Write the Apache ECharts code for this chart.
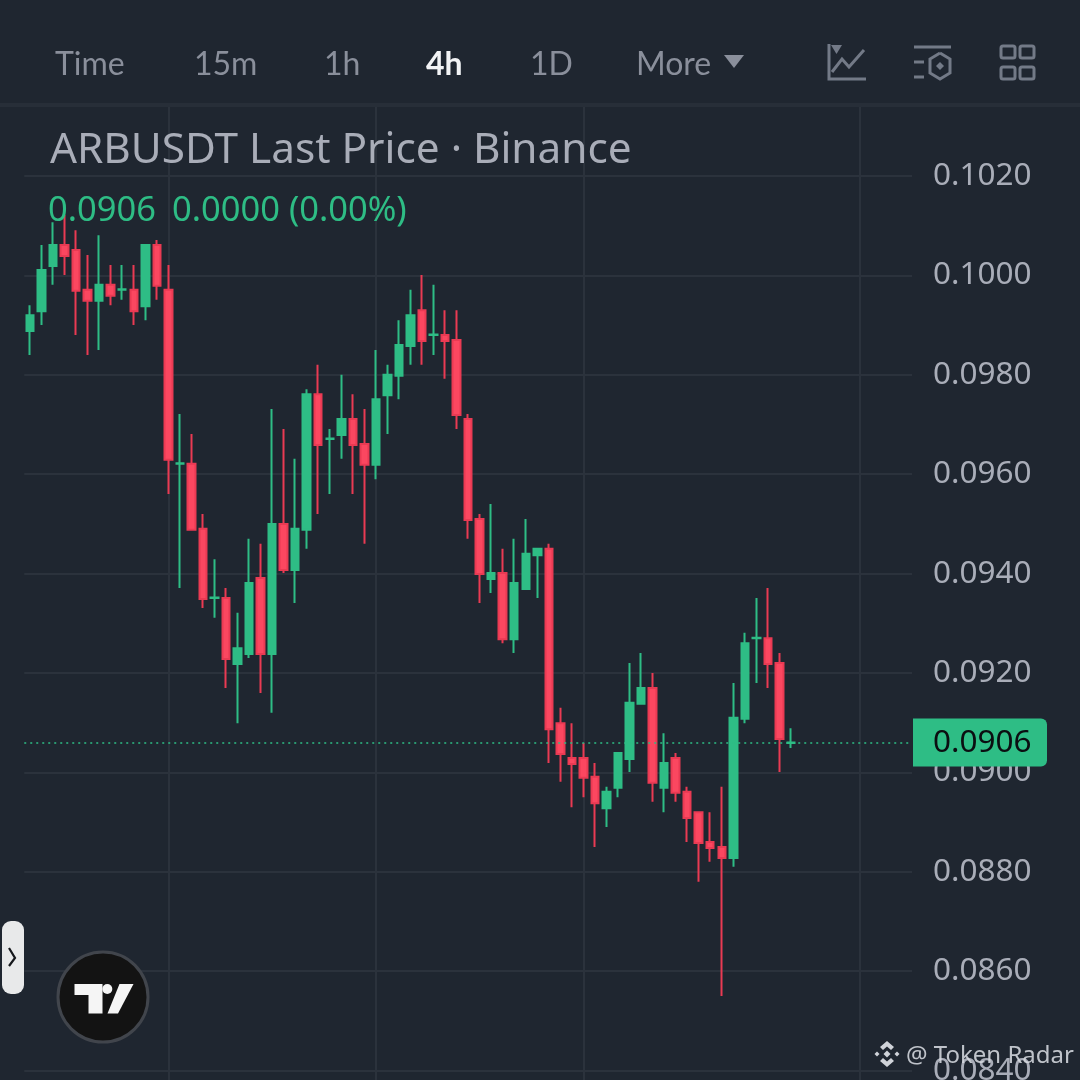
<!DOCTYPE html>
<html><head><meta charset="utf-8">
<style>html,body{margin:0;padding:0;background:#1f2630}#c{width:1080px;height:1080px}</style>
<script src="https://cdn.jsdelivr.net/npm/echarts@6/dist/echarts.min.js"></script>
</head><body><div id="c"></div>
<script>
// [open, close, low, high]
const candles = [
[.09888,.09920,.09840,.09940],[.09928,.10011,.09900,.10061],[.10019,.10061,.09981,.10107],[.10061,.10039,.10001,.10122],
[.10051,.09969,.09880,.10091],[.09971,.09949,.09840,.10041],[.09949,.09981,.09850,.10081],[.09981,.09959,.09940,.10021],
[.09971,.09972,.09951,.10021],[.09971,.09928,.09900,.10021],[.09938,.10061,.09910,.10061],[.10061,.09979,.09951,.10071],
[.09971,.09629,.09560,.10021],[.09621,.09622,.09371,.09721],[.09621,.09488,.09488,.09681],[.09490,.09349,.09331,.09520],
[.09351,.09352,.09311,.09429],[.09351,.09228,.09170,.09371],[.09218,.09250,.09099,.09321],[.09238,.09381,.09230,.09470],
[.09391,.09238,.09160,.09460],[.09238,.09500,.09120,.09731],[.09500,.09407,.09401,.09691],[.09407,.09490,.09341,.09631],
[.09488,.09761,.09450,.09771],[.09761,.09659,.09520,.09820],[.09671,.09672,.09560,.09691],[.09679,.09711,.09631,.09800],
[.09711,.09659,.09560,.09761],[.09661,.09619,.09460,.09731],[.09619,.09751,.09590,.09850],[.09759,.09800,.09681,.09820],
[.09798,.09860,.09751,.09910],[.09858,.09920,.09820,.09971],[.09930,.09868,.09820,.10001],[.09880,.09881,.09840,.09981],
[.09880,.09868,.09792,.09930],[.09870,.09719,.09691,.09930],[.09711,.09508,.09470,.09721],[.09510,.09399,.09341,.09520],
[.09389,.09401,.09361,.09540],[.09401,.09268,.09260,.09450],[.09268,.09381,.09240,.09470],[.09369,.09440,.09369,.09510],
[.09437,.09450,.09351,.09450],[.09450,.09087,.09019,.09460],[.09099,.09037,.08981,.09130],[.09029,.09017,.08930,.09099],
[.09029,.08989,.08950,.09059],[.08991,.08938,.08850,.09019],[.08928,.08961,.08890,.08971],[.08969,.09039,.08950,.09039],
[.09027,.09140,.09001,.09220],[.09138,.09170,.09138,.09240],[.09170,.08979,.08941,.09200],[.08969,.09019,.08920,.09079],
[.09029,.08959,.08941,.09039],[.08961,.08908,.08860,.08971],[.08920,.08858,.08780,.08920],[.08860,.08848,.08820,.08920],
[.08850,.08828,.08550,.08971],[.08828,.09110,.08810,.09180],[.09108,.09260,.09099,.09281],[.09270,.09271,.09180,.09351],
[.09270,.09218,.09170,.09371],[.09220,.09067,.09001,.09240],[.09059,.09060,.09049,.09089]
];
const emptySlots = 10;
const categories = Array.from({length: candles.length + emptySlots}, (_, i) => String(i));
const verticalLineSlots = [12, 30, 48, 72];
const lastPrice = 0.0906;
const intervals = [['Time',55],['15m',194],['1h',324],['4h',426],['1D',530],['More',636]];

const BG = '#1f2630', GRID = '#2b323c', GREEN = '#2ebd85', RED = '#fb4760', REDB = '#ea3a53', TXT = '#a9adb8', ICON = '#737a87';
const chart = echarts.init(document.getElementById('c'), null, {renderer:'canvas', width:1080, height:1080});
const Z = 100;
const rect = (x,y,w,h,fill,r,z) => ({type:'rect', z:z||Z, shape:{x,y,width:w,height:h,r:r||0}, style:{fill}});
const text = (x,y,t,font,fill,z) => ({type:'text', z:z||Z+1, x, y, style:{text:t, font, fill, textVerticalAlign:'middle', textBaseline:'middle'}});
const line = (pts,stroke,w,z) => ({type:'polyline', z:z||Z+1, shape:{points:pts}, style:{stroke, lineWidth:w, fill:null}});
const poly = (pts,fill,z) => ({type:'polygon', z:z||Z+1, shape:{points:pts}, style:{fill}});

const headFont = '32px Lato, sans-serif';
const graphics = [
  rect(0,0,1080,103,BG),
  rect(0,103,1080,4,'#272e38'),
  ...intervals.map(([t,x]) => text(x,65,t, t==='4h' ? 'bold 32px Lato, sans-serif' : headFont, t==='4h' ? '#f2f3f5' : '#8a8f9b')),
  poly([[724,55],[744,55],[734,68]],'#8a8f9b'),
  // chart icon
  line([[829,44],[829,79],[866,79]],ICON,3),
  poly([[831,45],[842,45],[836.5,54]],ICON),
  line([[832,72],[842,59],[849,67],[864,50]],ICON,3),
  // settings icon
  line([[914,47],[951,47]],ICON,3),
  line([[914,62],[924,62]],ICON,3),
  line([[914,77],[924,77]],ICON,3),
  line([[940,53],[950,59],[950,73],[940,79],[930,73],[930,59],[940,53]],ICON,3),
  poly([[940,62],[944,66],[940,70],[936,66]],ICON),
  // grid icon
  ...[[1001,46],[1020,46],[1001,67],[1020,67]].map(([x,y]) => ({type:'rect', z:Z+1, shape:{x,y,width:14,height:12,r:2}, style:{fill:null, stroke:ICON, lineWidth:3}})),
  // legend texts
  text(50,151,'ARBUSDT Last Price · Binance','42.3px "Noto Sans", sans-serif',TXT),
  text(48,211,'0.0906','34.5px "Noto Sans", sans-serif',GREEN),
  text(172,211,'0.0000 (0.00%)','34.5px "Noto Sans", sans-serif',GREEN),
  // side pill
  rect(2,921,22,73,'#e8e9ea',9),
  line([[9,948],[15,958],[9,966]],'#15181c',2.2),
  // logo
  {type:'circle', z:Z, shape:{cx:103,cy:997,r:45}, style:{fill:'#131313', stroke:'#41454c', lineWidth:3}},
  poly([[74.5,984],[102.5,984],[102.5,1013.5],[88.5,1013.5],[88.5,995],[74.5,995]],'#f5f5f5'),
  {type:'circle', z:Z+1, shape:{cx:107.3,cy:989,r:5}, style:{fill:'#f5f5f5'}},
  poly([[119.5,984],[133.5,984],[118,1013.5],[107.5,1013.5]],'#f5f5f5'),
  // watermark
  poly([[887,1041],[894,1047],[891,1050],[887,1046.5],[883,1050],[880,1047]],'#d0d3d9'),
  poly([[887,1067],[894,1061],[891,1058],[887,1061.5],[883,1058],[880,1061]],'#d0d3d9'),
  poly([[887,1050.5],[890.5,1054],[887,1057.5],[883.5,1054]],'#d0d3d9'),
  poly([[877,1051.5],[879.5,1054],[877,1056.5],[874.5,1054]],'#d0d3d9'),
  poly([[897,1051.5],[899.5,1054],[897,1056.5],[894.5,1054]],'#d0d3d9'),
  text(906,1056,'@ Token Radar','24px "Noto Sans", sans-serif','rgba(214,217,223,0.88)')
];

chart.setOption({
  animation:false,
  backgroundColor:BG,
  graphic:{elements:graphics},
  grid:{left:24.24, top:76.6, width:887.76, height:1093.4, containLabel:false, outerBoundsMode:'none'},
  xAxis:{type:'category', data:categories, boundaryGap:true,
    axisLine:{show:false}, axisTick:{show:false}, axisLabel:{show:false},
    splitLine:{show:true, alignWithLabel:true, interval:(i)=>verticalLineSlots.includes(i), lineStyle:{color:GRID,width:2}}},
  yAxis:{type:'value', position:'right', min:0.082, max:0.104, interval:0.002,
    axisLine:{show:false}, axisTick:{show:false},
    splitLine:{show:true, lineStyle:{color:GRID,width:2}},
    axisLabel:{show:true, margin:21, align:'left', verticalAlign:'middle', padding:[5,0,0,0], color:TXT, fontSize:31.5, fontFamily:'"Noto Sans", sans-serif', formatter:v=>v.toFixed(4)}},
  series:[{type:'candlestick', data:candles, barWidth:8,
    itemStyle:{color:GREEN, color0:RED, borderColor:GREEN, borderColor0:REDB, borderWidth:2},
    markLine:{silent:true, symbol:'none', animation:false, precision:4,
      lineStyle:{color:GREEN, type:[2,4], width:1.5, opacity:1},
      label:{show:true, position:'end', distance:1, formatter:lastPrice.toFixed(4), color:'#0b0e11', fontSize:31.5, fontFamily:'"Noto Sans", sans-serif',
        backgroundColor:GREEN, borderRadius:[0,6,6,0], padding:[5,15,3,20], width:99, height:40, lineHeight:40, align:'left'},
      data:[{yAxis:lastPrice}]}
  }]
});
</script></body></html>
